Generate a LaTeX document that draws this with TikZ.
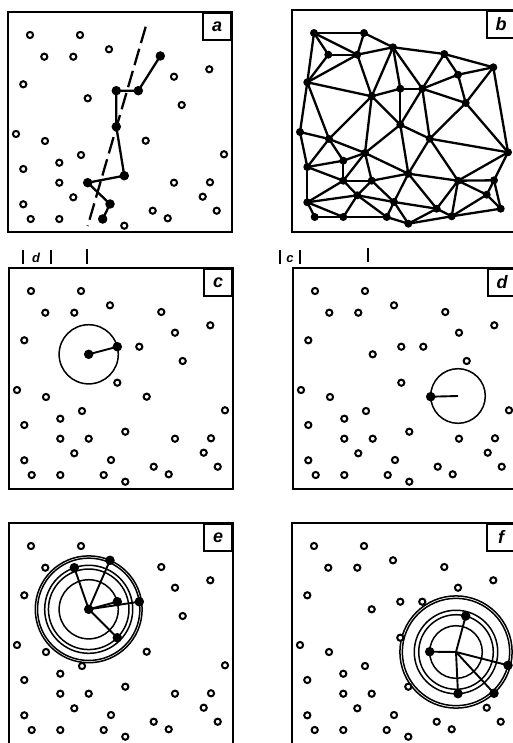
\documentclass[tikz,border=0pt]{standalone}
\usepackage{fontspec}
\setsansfont{Liberation Sans}
\usetikzlibrary{calc,backgrounds}

% point set shared by all six panels (panel coordinates, y downwards)
\newcommand{\ptlist}{1/22/23, 2/72/23, 3/36.3/44.7, 4/65.3/44.7, 5/101/37.3,
  6/15.3/72.3, 7/79.7/86.3, 8/166/64.7, 9/201.3/57.3, 10/173.7/93,
  11/8/122, 12/37/129, 13/137.7/128.7, 14/73/143, 15/51.3/150.7,
  16/216/142.3, 17/15.3/157, 18/51.3/170.7, 19/166/170.7, 20/202/170.3,
  21/65.3/185.3, 22/194.7/184.7, 23/15.3/192.3, 24/22.7/207, 25/51.3/207,
  26/144.7/198.7, 27/159.7/206.3, 28/208.7/198.7, 29/116.3/213.7,
  30/152.3/44, 31/130.3/78.7, 32/108.3/78.7, 33/108.3/114.7,
  34/116.3/163.7, 35/79.7/170.7, 36/102/192, 37/94.7/207}

\begin{document}
\begin{tikzpicture}[
  x=1pt, y=-1pt,
  frame/.style={draw, line width=1.9pt},
  tag/.style={
    draw, line width=1.6pt, anchor=north east, inner sep=0pt,
    minimum width=28pt, minimum height=27pt,
    font=\sffamily\bfseries\itshape\fontsize{18}{18}\selectfont,
  },
  pt/.style={circle, draw, fill=white, line width=2pt, minimum size=6.2pt, inner sep=0pt},
  hit/.style={circle, fill, minimum size=9.5pt, inner sep=0pt},
  knot/.style={circle, fill, minimum size=8pt, inner sep=0pt},
  link/.style={line width=2.3pt},
  ring/.style={line width=1.5pt},
  spoke/.style={line width=1.9pt},
  tick/.style={line width=1.9pt},
  cut/.style={font=\sffamily\bfseries\itshape\fontsize{13}{13}\selectfont, inner sep=0pt},
]
\useasboundingbox (0,0) rectangle (513,743);
\clip (0,0) rectangle (513,743);

% Panel a -- chain of neighbours and the dashed line
\begin{scope}[shift={(8,12)}]
  \draw[frame] (0,0) rectangle (224,220);
  \node[tag] (taga) at (224,0) {a};
  \foreach \n/\x/\y in \ptlist {\node[pt] (p\n) at (\x,\y) {};}
  \coordinate (dtop) at (137.7,14.7);
  \coordinate (dbot) at (79.7,214);
  \draw[link, dash pattern=on 17pt off 6pt] (dtop) -- (dbot);
  \draw[link] (p30.center) -- (p31.center) -- (p32.center) -- (p33.center)
    -- (p34.center) -- (p35.center) -- (p36.center) -- (p37.center);
  \foreach \n in {30,...,37} \node[hit] (h\n) at (p\n) {};
\end{scope}

% Panel b -- triangulation
\begin{scope}[shift={(292,10)}]
  \draw[frame] (0,0) rectangle (224,222);
  \node[tag] (tagb) at (224,0) {b};
  \foreach \n/\x/\y in \ptlist {\node[knot] (p\n) at (\x,\y) {};}
  \foreach \i/\j in {1/2, 1/3, 1/4, 1/6, 2/4, 2/5, 3/4, 3/6, 4/5, 4/6, 4/7,
      5/7, 5/32, 5/31, 5/30, 6/7, 6/11, 6/12, 7/12, 7/14, 7/32, 7/33,
      8/9, 8/10, 8/30, 8/31, 9/10, 9/16, 9/30, 10/13, 10/16, 10/31,
      11/12, 11/17, 12/14, 12/15, 12/17, 13/16, 13/19, 13/31, 13/33, 13/34,
      14/15, 14/18, 14/33, 14/34, 14/35, 15/17, 15/18, 16/19, 16/20,
      17/18, 17/23, 18/21, 18/23, 18/35, 19/20, 19/22, 19/26, 19/27, 19/34,
      20/22, 20/28, 21/23, 21/25, 21/35, 21/36, 21/37, 22/27, 22/28,
      23/24, 23/25, 24/25, 25/37, 26/27, 26/29, 26/34, 26/36, 27/28, 27/29,
      29/36, 29/37, 30/31, 31/32, 31/33, 32/33, 33/34, 34/35, 34/36,
      35/36, 36/37}
    \draw[link] (p\i.center) -- (p\j.center);
\end{scope}

% cut-off marks above c and d
\foreach \t/\u/\v in {23/250/264, 51/250/264, 87/249/264, 280/250/264, 300/250/264, 368/248/262}
  \draw[tick] (\t,\u) -- (\t,\v);
\node[cut] (cutd) at (36,258) {d};
\node[cut] (cutc) at (290,259) {c};

% Panel c -- nearest neighbour of a point
\begin{scope}[shift={(9,268)}]
  \draw[frame] (0,0) rectangle (224,221);
  \node[tag] (tagc) at (224,0) {c};
  \foreach \n/\x/\y in \ptlist {\node[pt] (p\n) at (\x,\y) {};}
  \begin{scope}[on background layer]
    \draw[ring] let \p1=($(p32.center)-(p7.center)$) in
      (p7.center) circle[radius={veclen(\x1,\y1)}];
  \end{scope}
  \draw[spoke] (p7.center) -- (p32.center);
  \foreach \n in {7,32} \node[hit] (h\n) at (p\n) {};
\end{scope}

% Panel d -- nearest point to a query location
\begin{scope}[shift={(293,268)}]
  \draw[frame] (0,0) rectangle (224,221);
  \node[tag] (tagd) at (224,0) {d};
  \foreach \n/\x/\y in \ptlist {\node[pt] (p\n) at (\x,\y) {};}
  \coordinate (qc) at (165,128);
  \begin{scope}[on background layer]
    \draw[ring] let \p1=($(p13.center)-(qc)$) in
      (qc) circle[radius={veclen(\x1,\y1)}];
  \end{scope}
  \draw[spoke] (p13.center) -- (qc);
  \node[hit] (h13) at (p13) {};
\end{scope}

% Panel e -- five nearest neighbours of a point
\begin{scope}[shift={(9,523)}]
  \draw[frame] (0,0) rectangle (224,222);
  \node[tag] (tage) at (224,0) {e};
  \foreach \n/\x/\y in \ptlist {\node[pt] (p\n) at (\x,\y) {};}
  \begin{scope}[on background layer]
    \foreach \k in {32,33,4,31,5}
      \draw[ring] let \p1=($(p\k.center)-(p7.center)$) in
        (p7.center) circle[radius={veclen(\x1,\y1)}];
  \end{scope}
  \foreach \k in {32,33,4,31,5} \draw[spoke] (p7.center) -- (p\k.center);
  \foreach \n in {7,32,33,4,31,5} \node[hit] (h\n) at (p\n) {};
\end{scope}

% Panel f -- five nearest points to a query location
\begin{scope}[shift={(292,523)}]
  \draw[frame] (0,0) rectangle (224,222);
  \node[tag] (tagf) at (224,0) {f};
  \foreach \n/\x/\y in \ptlist {\node[pt] (p\n) at (\x,\y) {};}
  \coordinate (qc) at (164,129);
  \begin{scope}[on background layer]
    \foreach \k in {13,10,19,16,20}
      \draw[ring] let \p1=($(p\k.center)-(qc)$) in
        (qc) circle[radius={veclen(\x1,\y1)}];
  \end{scope}
  \foreach \k in {13,10,19,16,20} \draw[spoke] (qc) -- (p\k.center);
  \foreach \n in {13,10,19,16,20} \node[hit] (h\n) at (p\n) {};
\end{scope}
\end{tikzpicture}
\end{document}
